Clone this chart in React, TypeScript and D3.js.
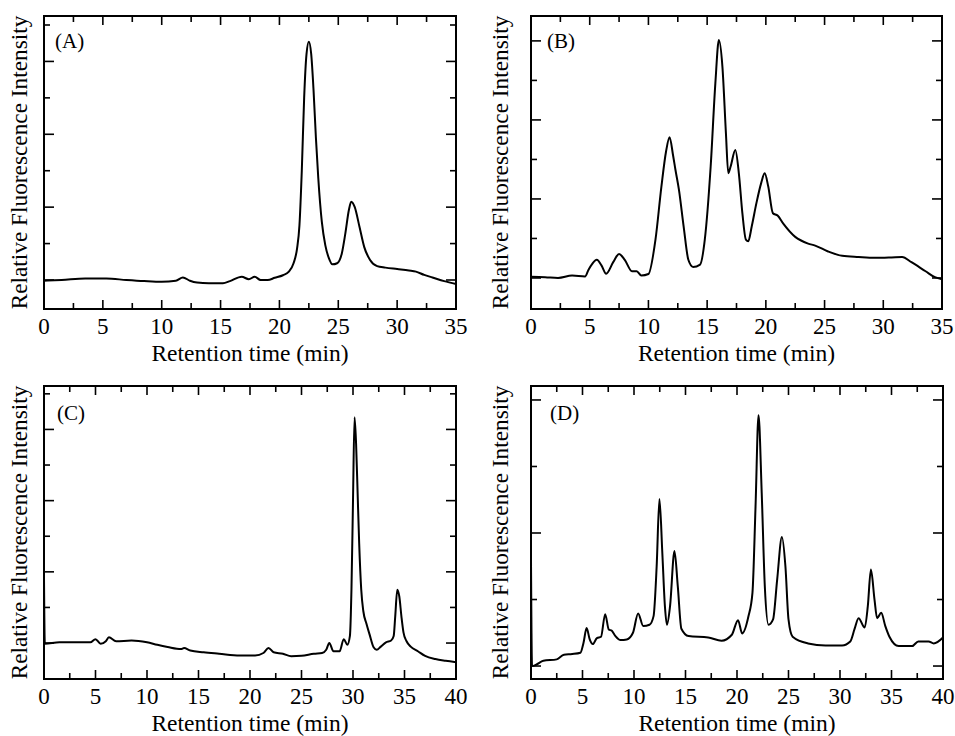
import React from "react";
import * as d3 from "d3";

// ---------- data ----------
const xTicksAB = [0, 5, 10, 15, 20, 25, 30, 35];
const xTicksCD = [0, 5, 10, 15, 20, 25, 30, 35, 40];

const timeA = [0, 1.5, 3.5, 5.3, 7, 8.5, 10, 11.2, 11.8, 12.4, 13, 14, 15.2, 15.8, 16.8, 17.4, 17.9, 18.4, 19, 19.6, 20.3, 20.8, 21.2, 21.5, 21.7, 21.9, 22.1, 22.3, 22.5, 22.7, 22.9, 23.1, 23.3, 23.6, 23.9, 24.2, 24.5, 24.9, 25.3, 25.6, 25.9, 26.1, 26.4, 26.8, 27.2, 27.7, 28.3, 29, 30, 31, 31.6, 32.3, 33, 34, 35];
const intensityA = [-0.02, 0, 0.04, 0.04, 0, -0.03, -0.05, -0.02, 0.07, -0.02, -0.07, -0.09, -0.09, -0.03, 0.09, 0.02, 0.09, 0, 0, 0.06, 0.13, 0.23, 0.46, 0.87, 1.5, 3.0, 5.0, 6.2, 6.54, 6.2, 5.2, 3.9, 2.8, 1.6, 0.95, 0.6, 0.43, 0.46, 0.73, 1.28, 1.92, 2.15, 2.0, 1.46, 0.91, 0.55, 0.38, 0.34, 0.3, 0.26, 0.23, 0.14, 0.07, -0.03, -0.11];

const timeB = [0, 1.2, 2.3, 3.5, 4.6, 4.9, 5.2, 5.6, 6.0, 6.4, 7.0, 7.5, 8.0, 8.6, 9.0, 9.4, 10.0, 10.6, 11.1, 11.5, 11.8, 12.1, 12.3, 12.6, 13.0, 13.4, 13.8, 14.4, 14.8, 15.3, 15.7, 16.0, 16.3, 16.6, 16.8, 17.0, 17.4, 17.7, 18.0, 18.3, 18.5, 18.8, 19.2, 19.6, 19.9, 20.2, 20.6, 21.0, 21.5, 22.5, 23.6, 24.2, 25.3, 26.5, 27.9, 29.3, 30.7, 31.6, 32.4, 33.6, 34.4, 35];
const intensityB = [0.03, 0.02, 0, 0.06, 0.04, 0.21, 0.35, 0.46, 0.32, 0.11, 0.4, 0.61, 0.45, 0.17, 0.17, 0.06, 0.1, 0.97, 2.3, 3.2, 3.56, 3.1, 2.74, 2.23, 1.3, 0.46, 0.28, 0.34, 0.97, 2.82, 4.93, 6.02, 5.35, 3.66, 2.65, 2.82, 3.24, 2.65, 1.64, 0.97, 0.93, 1.31, 1.9, 2.4, 2.65, 2.32, 1.64, 1.58, 1.37, 1.04, 0.87, 0.82, 0.67, 0.56, 0.53, 0.51, 0.52, 0.53, 0.4, 0.17, 0.02, -0.03];

const timeC = [0, 0.08, 1.5, 3, 4.5, 5.0, 5.5, 6.0, 6.3, 7.0, 8.5, 10, 11, 12, 13.3, 13.6, 14.2, 15.5, 17, 19, 20.5, 21.3, 21.8, 22.3, 23.2, 24, 25, 26.2, 27.0, 27.4, 27.7, 28.1, 28.7, 29.1, 29.45, 29.7, 29.85, 30.0, 30.15, 30.3, 30.45, 30.6, 30.8, 31.0, 31.3, 31.6, 32.0, 32.3, 32.7, 33.2, 33.7, 33.95, 34.1, 34.3, 34.5, 34.7, 34.9, 35.2, 35.6, 36.3, 37, 38, 39, 40];
const intensityC = [1.83, -0.02, 0.02, 0.02, 0.02, 0.11, -0.02, 0.05, 0.16, 0.05, 0.07, 0.02, -0.05, -0.11, -0.17, -0.14, -0.21, -0.26, -0.3, -0.35, -0.35, -0.28, -0.14, -0.26, -0.3, -0.37, -0.36, -0.3, -0.28, -0.19, 0, -0.23, -0.23, 0.11, -0.05, 0.2, 1.5, 4.0, 6.34, 5.6, 4.2, 2.8, 1.5, 0.9, 0.55, 0.25, -0.12, -0.19, -0.1, 0.02, 0.07, 0.2, 0.75, 1.5, 1.3, 0.75, 0.3, 0.05, -0.1, -0.23, -0.36, -0.45, -0.5, -0.54];

const timeD = [0, 0.1, 0.5, 1.2, 2.5, 3.2, 4.0, 4.8, 5.1, 5.4, 5.7, 6.0, 6.4, 6.8, 7.2, 7.55, 7.85, 8.2, 8.7, 9.3, 9.9, 10.4, 10.9, 11.5, 11.9, 12.2, 12.47, 12.75, 13.0, 13.2, 13.5, 13.93, 14.25, 14.6, 15.3, 17.2, 18.5, 19.5, 20.1, 20.5, 21.1, 21.5, 21.8, 22.09, 22.4, 22.7, 23.06, 23.5, 23.9, 24.36, 24.7, 25.0, 25.4, 26.9, 28.6, 30.2, 31.0, 31.4, 31.8, 32.4, 32.7, 33.0, 33.35, 33.6, 34.0, 34.4, 34.8, 35.7, 37.0, 37.6, 38.6, 39.1, 40];
const intensityD = [1.57, 0, 0.02, 0.08, 0.1, 0.17, 0.18, 0.2, 0.35, 0.57, 0.4, 0.33, 0.42, 0.44, 0.78, 0.55, 0.53, 0.45, 0.39, 0.4, 0.5, 0.79, 0.6, 0.62, 0.75, 1.5, 2.51, 1.7, 0.9, 0.62, 0.9, 1.73, 1.2, 0.56, 0.45, 0.43, 0.38, 0.47, 0.69, 0.49, 0.74, 1.1, 2.4, 3.77, 2.6, 1.2, 0.62, 0.7, 1.3, 1.94, 1.5, 0.7, 0.44, 0.34, 0.31, 0.31, 0.37, 0.55, 0.72, 0.58, 0.9, 1.45, 1.0, 0.72, 0.8, 0.6, 0.44, 0.3, 0.3, 0.37, 0.37, 0.34, 0.43];

const panelLabels = ["(A)", "(B)", "(C)", "(D)"];
const yTitle = "Relative Fluorescence Intensity";
const xTitle = "Retention time (min)";

const FONT = "'Liberation Serif', 'Times New Roman', Times, serif";

type PanelProps = {
  left: number; right: number; top: number; bottom: number;
  xMax: number; xTicks: number[];
  yDomain: [number, number];
  time: number[]; intensity: number[];
  label: string; labelDx: number; labelDy: number;
  yTitleDx: number;
};

function Panel(p: PanelProps) {
  const x = d3.scaleLinear().domain([0, p.xMax]).range([p.left, p.right]);
  const y = d3.scaleLinear().domain(p.yDomain).range([p.bottom, p.top]);
  const pts = p.time.map((t, i) => [t, p.intensity[i]] as [number, number]);
  const line = d3.line<[number, number]>()
    .x(d => x(d[0]))
    .y(d => y(d[1]))
    .curve(d3.curveMonotoneX);

  const xMinor = d3.range(0, p.xMax + 0.001, 2.5);
  const yTickVals = d3.range(Math.ceil(p.yDomain[0]), Math.floor(p.yDomain[1]) + 1).filter(v => y(v) < p.bottom - 2 && y(v) > p.top + 2);
  const midY = (p.top + p.bottom) / 2;

  return (
    <g>
      {/* x ticks */}
      {xMinor.map(t => {
        const major = Math.abs(t % 5) < 1e-6;
        const len = major ? 9 : 6;
        const xx = x(t);
        return (
          <g key={"xt" + t}>
            <line x1={xx} x2={xx} y1={p.bottom} y2={p.bottom - len} stroke="#000" strokeWidth={1.6} />
            <line x1={xx} x2={xx} y1={p.top} y2={p.top + len} stroke="#000" strokeWidth={1.6} />
          </g>
        );
      })}
      {/* y ticks */}
      {yTickVals.map(v => {
        const major = v % 2 === 0;
        const len = major ? 10 : 6;
        const yy = y(v);
        return (
          <g key={"yt" + v}>
            <line x1={p.left} x2={p.left + len} y1={yy} y2={yy} stroke="#000" strokeWidth={1.6} />
            <line x1={p.right} x2={p.right - len} y1={yy} y2={yy} stroke="#000" strokeWidth={1.6} />
          </g>
        );
      })}
      {/* data */}
      <path d={line(pts) || ""} fill="none" stroke="#000" strokeWidth={2} strokeLinejoin="round" />
      {/* frame */}
      <rect x={p.left} y={p.top} width={p.right - p.left} height={p.bottom - p.top} fill="none" stroke="#000" strokeWidth={2} />
      {/* x tick labels */}
      {p.xTicks.map(t => (
        <text key={"xl" + t} x={x(t)} y={p.bottom + 25} textAnchor="middle" fontFamily={FONT} fontSize={23} fill="#000">{t}</text>
      ))}
      <text x={(p.left + p.right) / 2} y={p.bottom + 52} textAnchor="middle" fontFamily={FONT} fontSize={23.5} fill="#000">{xTitle}</text>
      <text transform={`translate(${p.left - p.yTitleDx},${midY}) rotate(-90)`} textAnchor="middle" fontFamily={FONT} fontSize={23.3} fill="#000">{yTitle}</text>
      <text x={p.left + p.labelDx} y={p.top + p.labelDy} fontFamily={FONT} fontSize={21} fill="#000">{p.label}</text>
    </g>
  );
}

export default function App() {
  return (
    <svg width={955} height={736} viewBox="0 0 955 736" style={{ position: "absolute", left: 0, top: 0, background: "#fff" }}>
      <rect x={0} y={0} width={955} height={736} fill="#fff" />
      <Panel left={44} right={456} top={16} bottom={309} xMax={35} xTicks={xTicksAB}
        yDomain={[-0.796, 7.247]} time={timeA} intensity={intensityA}
        label={panelLabels[0]} labelDx={11} labelDy={32} yTitleDx={17} />
      <Panel left={531} right={942} top={16} bottom={309} xMax={35} xTicks={xTicksAB}
        yDomain={[-0.785, 6.63]} time={timeB} intensity={intensityB}
        label={panelLabels[1]} labelDx={16} labelDy={32} yTitleDx={23} />
      <Panel left={44} right={456} top={386} bottom={679} xMax={40} xTicks={xTicksCD}
        yDomain={[-1.01, 7.22]} time={timeC} intensity={intensityC}
        label={panelLabels[2]} labelDx={13} labelDy={34} yTitleDx={17} />
      <Panel left={531} right={943} top={386} bottom={679} xMax={40} xTicks={xTicksCD}
        yDomain={[-0.195, 4.21]} time={timeD} intensity={intensityD}
        label={panelLabels[3]} labelDx={19} labelDy={34} yTitleDx={23} />
    </svg>
  );
}
